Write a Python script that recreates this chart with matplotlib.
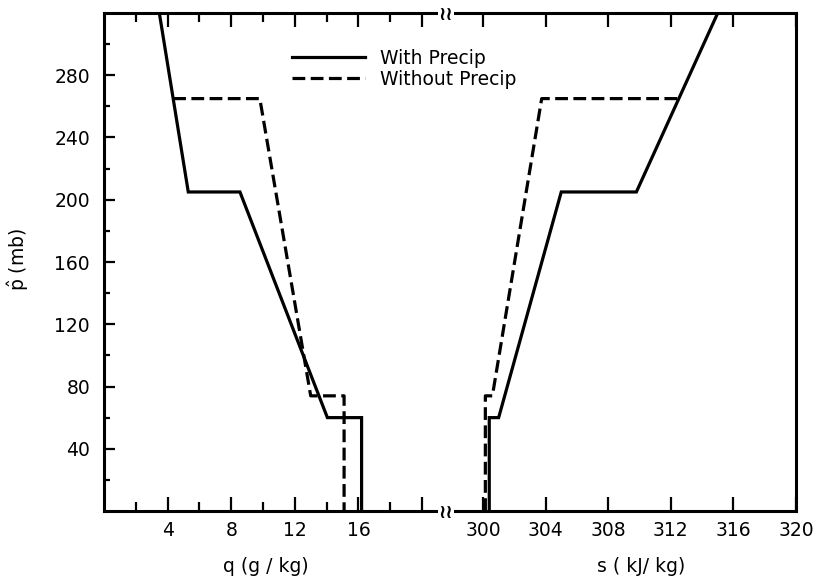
import numpy as np
import matplotlib.pyplot as plt

plt.rcParams['mathtext.fontset'] = 'dejavusans'

# Datos (p en mb)
q_with = [3.48, 5.3, 8.55, 14.05, 16.2, 16.2]
p_q_with = [320, 205, 205, 60, 60, 0]
q_without = [4.35, 9.8, 13.0, 15.1, 15.1]
p_q_without = [265, 265, 74, 74, 0]

s_with = [300.4, 300.4, 301.0, 305.0, 309.8, 315.0]
p_s_with = [0, 60, 60, 205, 205, 320]
s_without = [300.15, 300.15, 300.6, 303.75, 312.5]
p_s_without = [0, 74, 74, 265, 265]

q_ticks = [4, 8, 12, 16, 20]
q_labels = ['4', '8', '12', '16', '']
s_ticks = [300, 304, 308, 312, 316, 320]
p_ticks = [40, 80, 120, 160, 200, 240, 280]

W, H = 818, 583
fig = plt.figure(figsize=(W / 100, H / 100), dpi=100)

bottom = (H - 511) / H
height = (511 - 13) / H
ax1 = fig.add_axes([104 / W, bottom, (445 - 104) / W, height])
ax2 = fig.add_axes([445 / W, bottom, (796 - 445) / W, height])

lw = 2.3
dash = (0, (4, 1.7))
fs = 13.5

# Lado izquierdo: q
ax1.plot(q_with, p_q_with, color='black', lw=lw, solid_joinstyle='miter')
ax1.plot(q_without, p_q_without, color='black', lw=lw, linestyle=dash)
ax1.set_xlim(0, 341 / 15.9)

# Lado derecho: s
ax2.plot(s_with, p_s_with, color='black', lw=lw, solid_joinstyle='miter')
ax2.plot(s_without, p_s_without, color='black', lw=lw, linestyle=dash)
ax2.set_xlim(320 - 351 / 15.65, 320)

for ax in (ax1, ax2):
    ax.set_ylim(0, 320)
    for sp in ax.spines.values():
        sp.set_linewidth(2.2)
    ax.tick_params(axis='x', which='both', direction='in', top=True, bottom=True,
                   width=1.6, labelsize=fs, pad=7)
    ax.tick_params(axis='x', which='major', length=10)
    ax.tick_params(axis='x', which='minor', length=6.5)

ax1.spines['right'].set_visible(False)
ax2.spines['left'].set_visible(False)

ax1.set_xticks(q_ticks)
ax1.set_xticklabels(q_labels)
ax1.set_xticks(np.arange(2, 21, 4), minor=True)
ax1.set_yticks(p_ticks)
ax1.set_yticks(np.arange(20, 320, 40), minor=True)
ax1.tick_params(axis='y', which='both', direction='in', width=1.6, labelsize=fs, pad=10)
ax1.tick_params(axis='y', which='major', length=8)
ax1.tick_params(axis='y', which='minor', length=4.5)

ax2.set_xticks(s_ticks)
ax2.set_yticks([])

# Marcas de corte del eje
for yy in (512, 14):
    fig.text(446 / W, 1 - yy / H, '≀≀', ha='center', va='center', fontsize=14,
             fontweight='bold', bbox=dict(facecolor='white', edgecolor='none', pad=0.3))

# Etiquetas de los ejes
fig.text(266 / W, 1 - 567 / H, 'q (g / kg)', ha='center', va='center', fontsize=fs)
fig.text(641 / W, 1 - 567 / H, 's ( kJ/ kg)', ha='center', va='center', fontsize=fs)
fig.text(18 / W, 1 - 260 / H, r'$\hat{\mathrm{p}}$ (mb)', ha='center', va='center',
         rotation=90, fontsize=fs)

# Leyenda
fig.legend([plt.Line2D([], [], color='black', lw=lw),
            plt.Line2D([], [], color='black', lw=lw, linestyle=dash)],
           ['With Precip', 'Without Precip'],
           loc='upper left', bbox_to_anchor=(292 / W, 1 - 49 / H),
           frameon=False, fontsize=fs, handlelength=3.9, handletextpad=0.8,
           labelspacing=0.1, borderpad=0, borderaxespad=0)

plt.savefig('out.png', dpi=100)
